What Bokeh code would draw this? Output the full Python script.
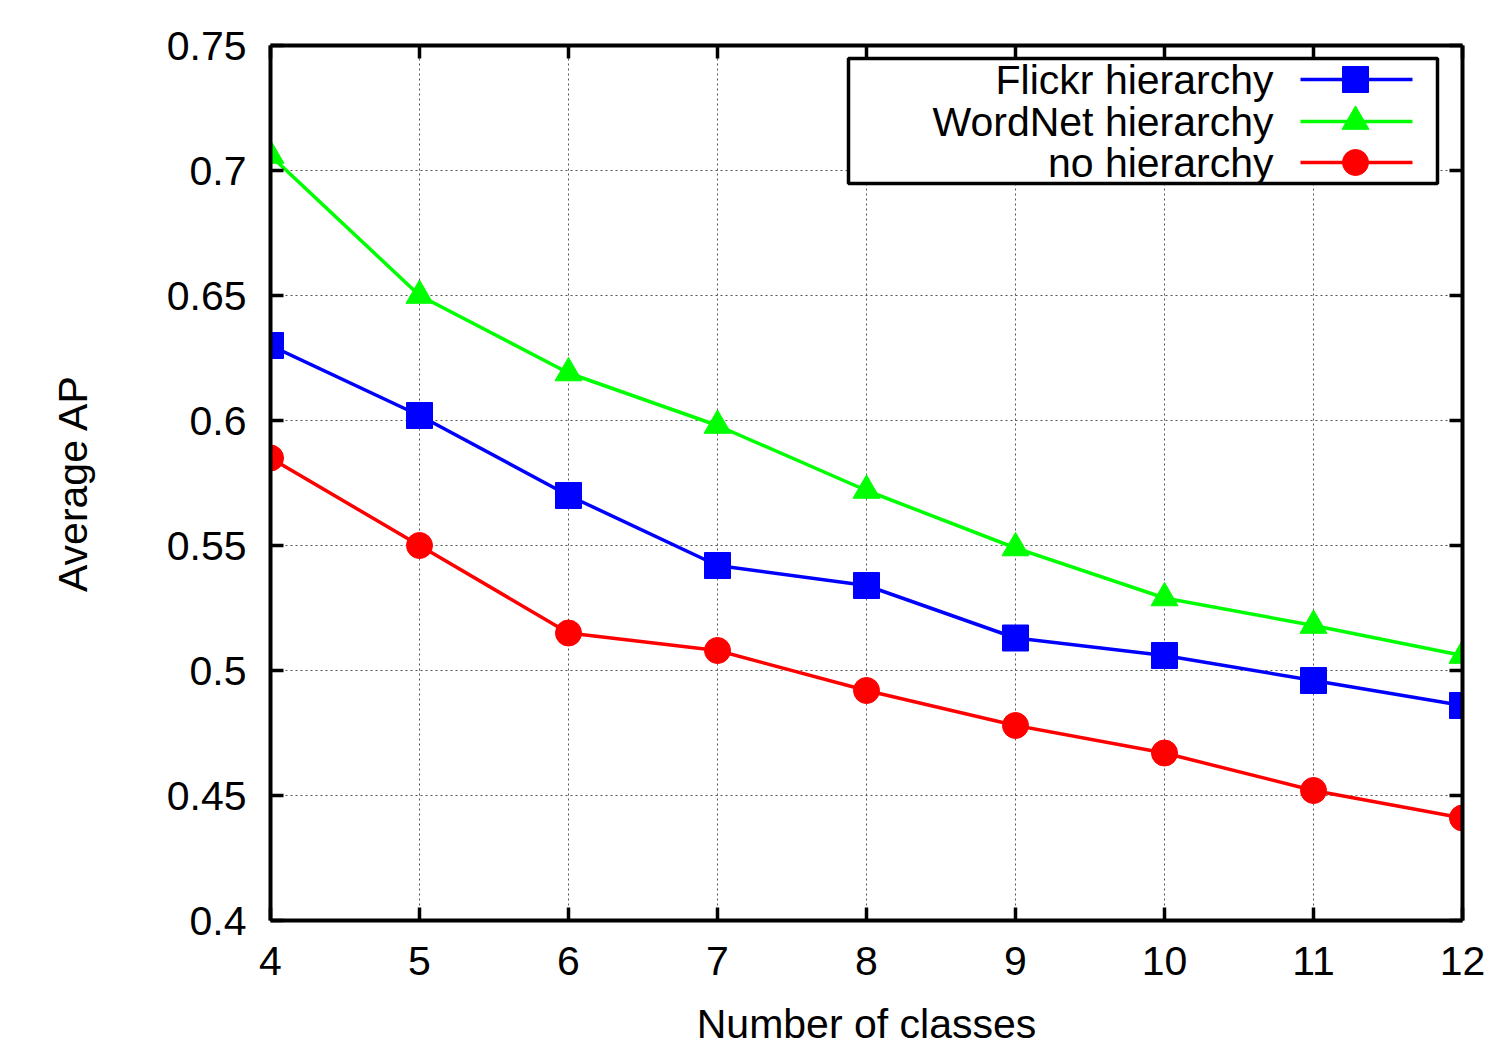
from bokeh.plotting import figure
from bokeh.models import Range1d, FixedTicker, LinearAxis
from bokeh.core.properties import value
from bokeh.embed import file_html
from bokeh.resources import INLINE

# ---- data ----
classes = [4, 5, 6, 7, 8, 9, 10, 11, 12]
flickr = [0.630, 0.602, 0.570, 0.542, 0.534, 0.513, 0.506, 0.496, 0.486]
wordnet = [0.706, 0.650, 0.619, 0.598, 0.572, 0.549, 0.529, 0.518, 0.506]
no_hier = [0.585, 0.550, 0.515, 0.508, 0.492, 0.478, 0.467, 0.452, 0.441]
series_names = ["Flickr hierarchy", "WordNet hierarchy", "no hierarchy"]
x_ticks = [4, 5, 6, 7, 8, 9, 10, 11, 12]
y_ticks = [0.4, 0.45, 0.5, 0.55, 0.6, 0.65, 0.7, 0.75]
y_tick_labels = ["0.4", "0.45", "0.5", "0.55", "0.6", "0.65", "0.7", "0.75"]

FONT = "Liberation Sans"
FS = "41px"
FW, FH = 1192, 875
X0, X1, Y0, Y1 = 4, 12, 0.4, 0.75

p = figure(frame_width=FW, frame_height=FH, output_backend="svg", toolbar_location=None,
           x_range=Range1d(X0, X1), y_range=Range1d(Y0, Y1),
           min_border_left=270, min_border_right=23, min_border_top=45, min_border_bottom=131,
           x_axis_label="Number of classes", y_axis_label="Average AP")
p.outline_line_color = None
p.background_fill_color = "white"
p.border_fill_color = "white"

# axes
def style_axis(ax, labels=True):
    ax.axis_line_width = 4
    ax.axis_line_color = "black"
    ax.major_tick_in = 13
    ax.major_tick_out = 0
    ax.major_tick_line_width = 3.5
    ax.minor_tick_line_color = None
    ax.major_label_text_font = FONT
    if labels:
        ax.major_label_text_font_size = FS
        ax.major_label_text_color = "black"
    else:
        ax.major_label_text_font_size = "0px"
        ax.major_label_text_color = None
    ax.axis_label_text_font = FONT
    ax.axis_label_text_font_size = FS
    ax.axis_label_text_font_style = "normal"
    ax.axis_label_text_color = "black"

xa = p.xaxis[0]
xa.ticker = FixedTicker(ticks=x_ticks)
style_axis(xa)
xa.major_label_standoff = 26
xa.axis_label_standoff = 23

ya = p.yaxis[0]
ya.ticker = FixedTicker(ticks=y_ticks)
ya.major_label_overrides = {t: l for t, l in zip(y_ticks, y_tick_labels)}
style_axis(ya)
ya.major_label_standoff = 24
ya.axis_label_standoff = 68

top = LinearAxis(ticker=FixedTicker(ticks=x_ticks))
style_axis(top, labels=False)
top.major_label_standoff = 0
p.add_layout(top, "above")
right = LinearAxis(ticker=FixedTicker(ticks=y_ticks))
style_axis(right, labels=False)
right.major_label_standoff = 0
p.add_layout(right, "right")

# grid
for g in (p.xgrid[0], p.ygrid[0]):
    g.grid_line_color = "#555555"
    g.grid_line_width = 1
    g.grid_line_dash = "2 3"
p.xgrid[0].ticker = FixedTicker(ticks=x_ticks)
p.ygrid[0].ticker = FixedTicker(ticks=y_ticks)

LW = 3.5
colors = ["#0000ff", "#00ff00", "#ff0000"]
markers = ["square", "triangle", "circle"]
sizes = [26, 27, 26]
data = [flickr, wordnet, no_hier]

for ys, c, m, s in zip(data, colors, markers, sizes):
    p.line(classes, ys, line_color=c, line_width=LW)
    p.scatter(classes, ys, marker=m, size=s, fill_color=c, line_color=c)

# ---- legend (layout in pixels, converted to data coordinates) ----
def px_x(px):  # px relative to frame left
    return X0 + px / FW * (X1 - X0)

def px_y(py):  # py relative to frame top
    return Y1 - py / FH * (Y1 - Y0)

box_l, box_r, box_t, box_b = 578, 1167, 13, 138
p.quad(left=[px_x(box_l)], right=[px_x(box_r)], top=[px_y(box_t)], bottom=[px_y(box_b)],
       fill_color="white", line_color="black", line_width=3.5)
row_y = [34, 76, 117]
txt_r = 1003
ln_l, ln_r, mk_x = 1030, 1142, 1085
for name, c, m, s, ry in zip(series_names, colors, markers, sizes, row_y):
    p.line([px_x(ln_l), px_x(ln_r)], [px_y(ry), px_y(ry)], line_color=c, line_width=LW)
    p.scatter([px_x(mk_x)], [px_y(ry)], marker=m, size=s, fill_color=c, line_color=c)
    p.text(x=[px_x(txt_r)], y=[px_y(ry)], text=[name], text_align="right",
           text_baseline="middle", text_font=value(FONT), text_font_size=FS,
           text_color="black")

open("out.html", "w").write(file_html(p, INLINE))
